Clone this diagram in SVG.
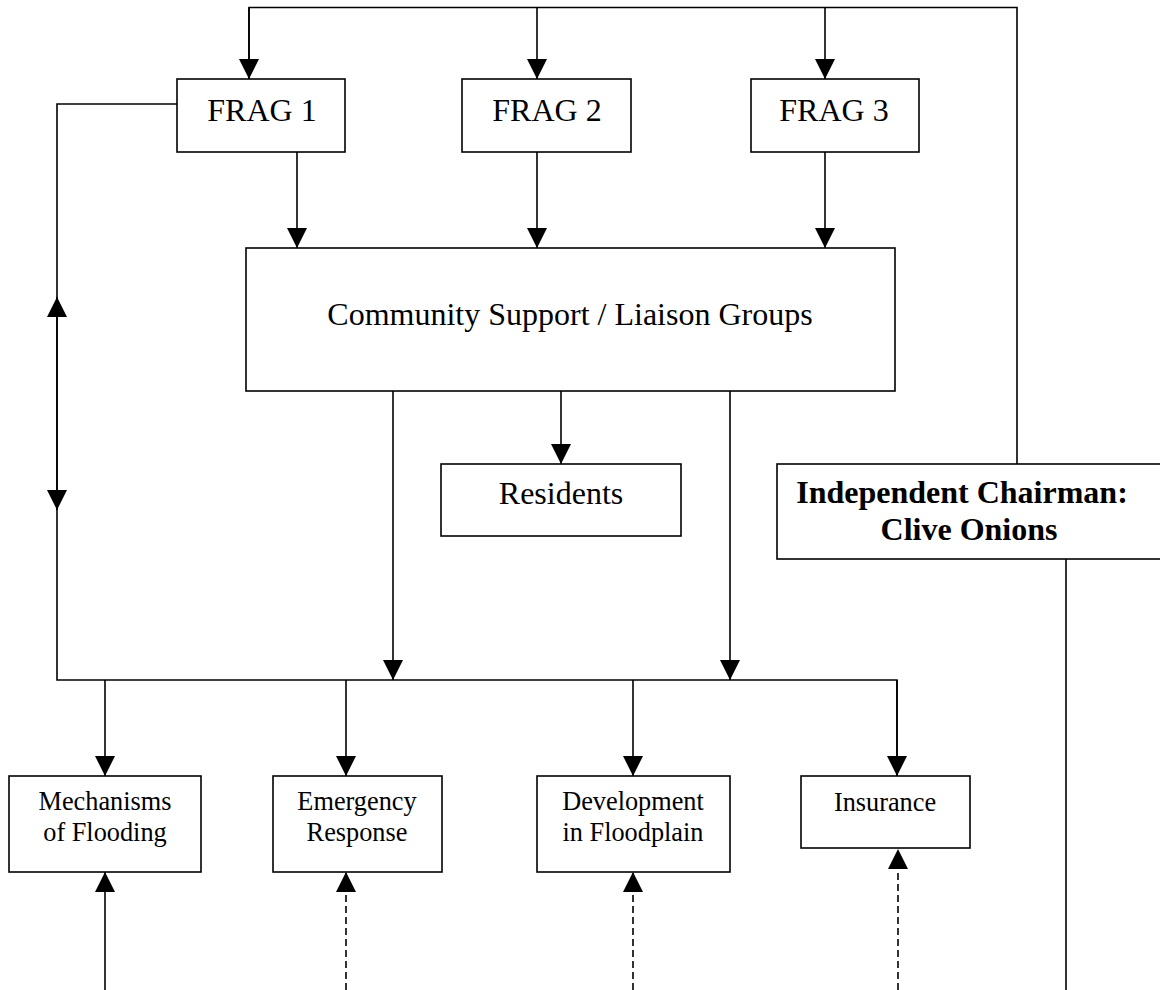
<svg xmlns="http://www.w3.org/2000/svg" width="1160" height="990" viewBox="0 0 1160 990">
<style>
  .box { fill: #ffffff; stroke: #000000; stroke-width: 1.6; }
  .t { font-family: "Liberation Serif", "Times New Roman", serif; fill: #000000; text-anchor: middle; }
  .big { font-size: 32px; }
  .sm { font-size: 26.3px; }
  .bold { font-weight: bold; }
  .ln { fill: none; stroke: #000000; stroke-width: 1.6; }
  .dash { stroke-dasharray: 7 4; }
</style>
<defs>
  <marker id="ah" markerUnits="userSpaceOnUse" markerWidth="20" markerHeight="20" viewBox="0 0 20 20" refX="20" refY="10" orient="auto">
    <path d="M0,0 L20,10 L0,20 Z" fill="#000000"/>
  </marker>
</defs>

<g id="connectors">
  <!-- top distribution line from chairman -->
  <path class="ln" d="M1017,464 L1017,7.5 L249,7.5 L249,79"/>
  <line class="ln" x1="249" y1="7.5" x2="249" y2="79" marker-end="url(#ah)"/>
  <line class="ln" x1="537" y1="7.5" x2="537" y2="79" marker-end="url(#ah)"/>
  <line class="ln" x1="825" y1="7.5" x2="825" y2="79" marker-end="url(#ah)"/>
  <!-- FRAGs to community -->
  <line class="ln" x1="297" y1="152" x2="297" y2="248" marker-end="url(#ah)"/>
  <line class="ln" x1="537" y1="152" x2="537" y2="248" marker-end="url(#ah)"/>
  <line class="ln" x1="825" y1="152" x2="825" y2="248" marker-end="url(#ah)"/>
  <!-- community to residents -->
  <line class="ln" x1="561" y1="391" x2="561" y2="464" marker-end="url(#ah)"/>
  <!-- community to bus -->
  <line class="ln" x1="393" y1="391" x2="393" y2="680" marker-end="url(#ah)"/>
  <line class="ln" x1="730" y1="391" x2="730" y2="680" marker-end="url(#ah)"/>
  <!-- FRAG1 loop to bus -->
  <path class="ln" d="M177,104 L57,104 L57,680 L897,680 L897,776"/>
  <line class="ln" x1="57" y1="400" x2="57" y2="297" marker-end="url(#ah)"/>
  <line class="ln" x1="57" y1="400" x2="57" y2="510" marker-end="url(#ah)"/>
  <!-- bus to bottom boxes -->
  <line class="ln" x1="105" y1="680" x2="105" y2="776" marker-end="url(#ah)"/>
  <line class="ln" x1="346" y1="680" x2="346" y2="776" marker-end="url(#ah)"/>
  <line class="ln" x1="633" y1="680" x2="633" y2="776" marker-end="url(#ah)"/>
  <line class="ln" x1="897" y1="680" x2="897" y2="776" marker-end="url(#ah)"/>
  <!-- from below -->
  <line class="ln" x1="105" y1="990" x2="105" y2="872" marker-end="url(#ah)"/>
  <line class="ln dash" x1="346" y1="990" x2="346" y2="872" marker-end="url(#ah)"/>
  <line class="ln dash" x1="633" y1="990" x2="633" y2="872" marker-end="url(#ah)"/>
  <line class="ln dash" x1="898" y1="990" x2="898" y2="849" marker-end="url(#ah)"/>
  <!-- chairman down -->
  <line class="ln" x1="1066" y1="559" x2="1066" y2="990"/>
</g>

<g id="frag1">
  <rect class="box" x="177" y="79" width="168" height="73"/>
  <text class="t big" x="262" y="121">FRAG 1</text>
</g>
<g id="frag2">
  <rect class="box" x="462" y="79" width="169" height="73"/>
  <text class="t big" x="547" y="121">FRAG 2</text>
</g>
<g id="frag3">
  <rect class="box" x="751" y="79" width="168" height="73"/>
  <text class="t big" x="834" y="121">FRAG 3</text>
</g>
<g id="community">
  <rect class="box" x="246" y="248" width="649" height="143"/>
  <text class="t big" x="570" y="325">Community Support / Liaison Groups</text>
</g>
<g id="residents">
  <rect class="box" x="441" y="464" width="240" height="72"/>
  <text class="t big" x="561" y="504">Residents</text>
</g>
<g id="chairman">
  <rect class="box" x="777" y="464" width="400" height="95"/>
  <text class="t big bold" x="962" y="503">Independent Chairman:</text>
  <text class="t big bold" x="969" y="540">Clive Onions</text>
</g>
<g id="mechanisms">
  <rect class="box" x="9" y="776" width="192" height="96"/>
  <text class="t sm" x="105" y="810">Mechanisms</text>
  <text class="t sm" x="105" y="841">of Flooding</text>
</g>
<g id="emergency">
  <rect class="box" x="273" y="776" width="169" height="96"/>
  <text class="t sm" x="357" y="810">Emergency</text>
  <text class="t sm" x="357" y="841">Response</text>
</g>
<g id="development">
  <rect class="box" x="537" y="776" width="193" height="96"/>
  <text class="t sm" x="633" y="810">Development</text>
  <text class="t sm" x="633" y="841">in Floodplain</text>
</g>
<g id="insurance">
  <rect class="box" x="801" y="776" width="169" height="72"/>
  <text class="t sm" x="885" y="811">Insurance</text>
</g>
</svg>
